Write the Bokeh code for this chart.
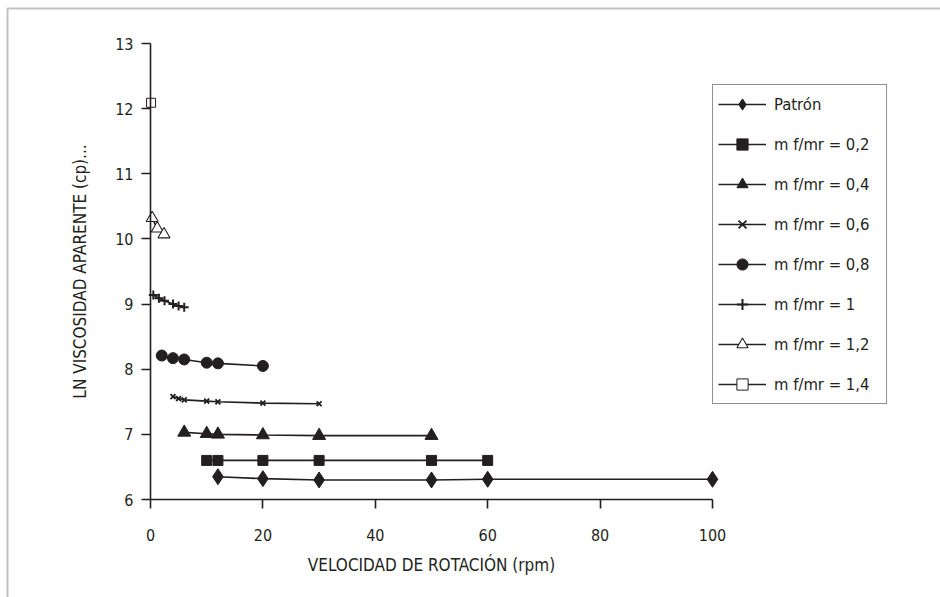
import numpy as np
from bokeh.plotting import figure
from bokeh.models import (Range1d, Legend, LegendItem, Label, BoxAnnotation,
                          FixedTicker, LinearAxis)
from bokeh.embed import file_html
from bokeh.resources import INLINE

# Rotational speed (rpm) and ln of apparent viscosity (cp) per sample
patron_x = [12, 20, 30, 50, 60, 100]
patron_y = [6.35, 6.32, 6.30, 6.30, 6.31, 6.31]

m02_x = [10, 12, 20, 30, 50, 60]
m02_y = [6.60, 6.60, 6.60, 6.60, 6.60, 6.60]

m04_x = [6, 10, 12, 20, 30, 50]
m04_y = [7.03, 7.01, 7.00, 6.99, 6.98, 6.98]

m06_x = [4, 5, 6, 10, 12, 20, 30]
m06_y = [7.58, 7.55, 7.53, 7.51, 7.50, 7.48, 7.47]

m08_x = [2, 4, 6, 10, 12, 20]
m08_y = [8.21, 8.17, 8.15, 8.10, 8.09, 8.05]

m10_x = [0.5, 1.5, 2.5, 4, 5, 6]
m10_y = [9.14, 9.09, 9.05, 9.00, 8.97, 8.95]

m12_x = [0.3, 1.2, 2.4]
m12_y = [10.32, 10.16, 10.07]

m14_x = [0.1]
m14_y = [12.09]

x_ticks = [0, 20, 40, 60, 80, 100]
y_ticks = [6, 7, 8, 9, 10, 11, 12, 13]

INK = "#231f20"
FONT = "'DejaVu Sans Condensed', Roboto, sans-serif"

W, H = 940, 597
# pixel scale of the axes: 100 rpm over 562 px, 7 ln units over 456 px
X0_PX, XSCALE = 150.0, 5.62
Y0_PX, YSCALE = 499.0, 456.0 / 7.0

# The plotting frame covers the whole canvas; the axes are pinned at x=0 and y=6
p = figure(width=W, height=H, output_backend="svg", toolbar_location=None,
           x_range=Range1d(-X0_PX / XSCALE, (W - X0_PX) / XSCALE),
           y_range=Range1d(6 - (H - Y0_PX) / YSCALE, 6 + Y0_PX / YSCALE),
           x_axis_location=None, y_axis_location=None,
           min_border=0, min_border_left=0, min_border_right=0,
           min_border_top=0, min_border_bottom=0)
p.outline_line_color = None
p.grid.visible = False
p.background_fill_color = "white"
p.border_fill_color = "white"

xaxis = LinearAxis(ticker=FixedTicker(ticks=x_ticks), bounds=(0, 100), fixed_location=6)
yaxis = LinearAxis(ticker=FixedTicker(ticks=y_ticks), bounds=(6, 13), fixed_location=0)
for ax in (xaxis, yaxis):
    ax.axis_line_color = INK
    ax.axis_line_width = 1.6
    ax.major_tick_line_color = INK
    ax.major_tick_line_width = 1.6
    ax.major_tick_out = 9
    ax.major_tick_in = 0
    ax.minor_tick_line_color = None
    ax.major_label_text_font = FONT
    ax.major_label_text_font_size = "16px"
    ax.major_label_text_color = INK
xaxis.major_label_standoff = 20
yaxis.major_label_standoff = 8
p.add_layout(xaxis, "below")
p.add_layout(yaxis, "left")

series = [
    ("Patrón", patron_x, patron_y, dict(marker="diamond", size=16, fill_color=INK)),
    ("m f/mr = 0,2", m02_x, m02_y, dict(marker="square", size=10, fill_color=INK)),
    ("m f/mr = 0,4", m04_x, m04_y, dict(marker="triangle", size=13, fill_color=INK)),
    ("m f/mr = 0,6", m06_x, m06_y, dict(marker="x", size=7, line_width=1.8)),
    ("m f/mr = 0,8", m08_x, m08_y, dict(marker="circle", size=11, fill_color=INK)),
    ("m f/mr = 1", m10_x, m10_y, dict(marker="cross", size=9, line_width=2)),
    ("m f/mr = 1,2", m12_x, m12_y, dict(marker="triangle", size=12, fill_color="white", line_width=1.1)),
    ("m f/mr = 1,4", m14_x, m14_y, dict(marker="square", size=9, fill_color="white", line_width=1.0)),
]

items = []
for name, xs, ys, mk in series:
    ln = p.line(xs, ys, line_color=INK, line_width=1.6)
    mk = dict(mk)
    mk.setdefault("line_width", 1.0)
    sc = p.scatter(xs, ys, line_color=INK, **mk)
    items.append(LegendItem(label=name, renderers=[ln, sc]))

legend = Legend(items=items, location=(712, 193),
                label_text_font=FONT, label_text_font_size="16.5px", label_text_color=INK,
                glyph_width=48, glyph_height=28, label_height=28, label_standoff=8,
                label_width=107, spacing=12, padding=5, margin=0,
                border_line_color=INK, border_line_width=1.5,
                background_fill_color="white", background_fill_alpha=1.0)
p.add_layout(legend, "center")

# Axis titles, centred on the plotting area
p.add_layout(Label(x=50, y=5.0, text="VELOCIDAD DE ROTACIÓN (rpm)",
                   text_font=FONT, text_font_size="17px", text_color=INK,
                   text_align="center", text_baseline="middle"))
p.add_layout(Label(x=-12.5, y=9.5, text="LN VISCOSIDAD APARENTE (cp)...",
                   angle=np.pi / 2, text_font=FONT, text_font_size="17px", text_color=INK,
                   text_align="center", text_baseline="middle"))

# Outer frame of the figure panel (its right and bottom sides fall off the page)
p.add_layout(BoxAnnotation(left=(7 - X0_PX) / XSCALE, right=500,
                           top=6 + (Y0_PX - 8) / YSCALE, bottom=-50,
                           fill_alpha=0, line_color="#333333", line_width=2))

open("out.html", "w").write(file_html(p, INLINE))
